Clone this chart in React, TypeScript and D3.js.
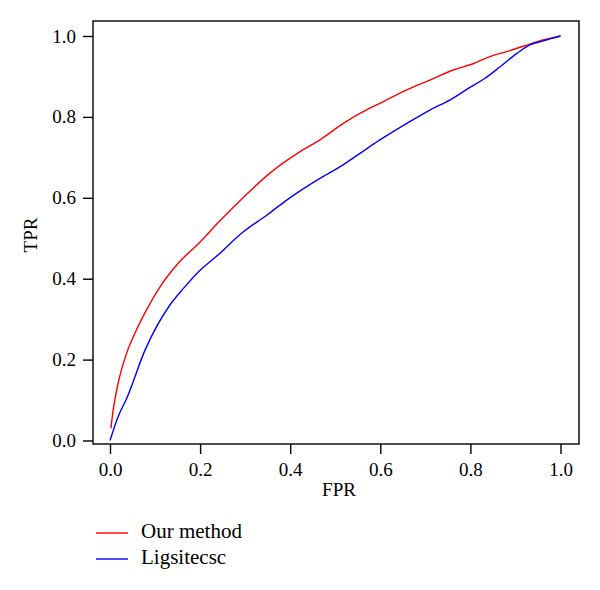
import React, { useEffect, useRef } from 'react';
import * as d3 from 'd3';

// ROC curves
const ourFpr = [0.002, 0.007, 0.018, 0.037, 0.052, 0.081, 0.111, 0.148, 0.2, 0.244, 0.296, 0.355, 0.422, 0.466, 0.518, 0.562, 0.607, 0.659, 0.71, 0.762, 0.807, 0.843, 0.888, 0.932, 0.954, 0.976, 1.0];
const ourTpr = [0.03, 0.075, 0.141, 0.216, 0.257, 0.323, 0.38, 0.434, 0.491, 0.543, 0.601, 0.661, 0.714, 0.743, 0.784, 0.813, 0.838, 0.867, 0.891, 0.916, 0.932, 0.949, 0.964, 0.98, 0.988, 0.994, 1.0];

const ligFpr = [0.0, 0.018, 0.037, 0.078, 0.133, 0.163, 0.2, 0.237, 0.296, 0.348, 0.393, 0.466, 0.511, 0.555, 0.599, 0.659, 0.71, 0.755, 0.799, 0.829, 0.866, 0.903, 0.932, 0.962, 0.98, 1.0];
const ligTpr = [0.0, 0.059, 0.104, 0.224, 0.335, 0.376, 0.421, 0.456, 0.516, 0.557, 0.595, 0.648, 0.677, 0.71, 0.743, 0.784, 0.817, 0.842, 0.873, 0.893, 0.924, 0.957, 0.978, 0.988, 0.994, 1.0];

const ticks = [0, 0.2, 0.4, 0.6, 0.8, 1.0];
const seriesNames = ['Our method', 'Ligsitecsc'];
const seriesColors = ['#ff0000', '#0000ff'];

const font = '"Liberation Serif", "Times New Roman", serif';

export default function App() {
  const ref = useRef<SVGSVGElement>(null);

  useEffect(() => {
    const svg = d3.select(ref.current);
    svg.selectAll('*').remove();

    const box = { left: 93, top: 21, right: 579, bottom: 444 };

    const x = d3.scaleLinear().domain([0, 1]).range([110, 560.5]);
    const y = d3.scaleLinear().domain([0, 1]).range([440.5, 36]);

    // frame
    svg
      .append('rect')
      .attr('x', box.left)
      .attr('y', box.top)
      .attr('width', box.right - box.left)
      .attr('height', box.bottom - box.top)
      .attr('fill', 'none')
      .attr('stroke', '#000')
      .attr('stroke-width', 1.4);

    const xAxis = svg
      .append('g')
      .attr('transform', `translate(0,${box.bottom})`)
      .call(d3.axisBottom(x).tickValues(ticks).tickFormat(d3.format('.1f')).tickSize(10).tickPadding(9));
    xAxis.select('.domain').remove();

    const yAxis = svg
      .append('g')
      .attr('transform', `translate(${box.left},0)`)
      .call(d3.axisLeft(y).tickValues(ticks).tickFormat(d3.format('.1f')).tickSize(10).tickPadding(7));
    yAxis.select('.domain').remove();

    [xAxis, yAxis].forEach(a => a.attr('font-family', font).attr('font-size', 19));

    svg
      .selectAll('.tick line')
      .attr('stroke', '#000')
      .attr('stroke-width', 1.4);
    svg
      .selectAll('.tick text')
      .attr('font-family', font)
      .attr('font-size', 19)
      .attr('fill', '#000');

    // axis titles
    svg
      .append('text')
      .attr('x', 339)
      .attr('y', 496)
      .attr('text-anchor', 'middle')
      .attr('font-family', font)
      .attr('font-size', 19)
      .text('FPR');

    svg
      .append('text')
      .attr('transform', 'translate(37,235) rotate(-90)')
      .attr('text-anchor', 'middle')
      .attr('font-family', font)
      .attr('font-size', 19)
      .text('TPR');

    const line = d3
      .line<[number, number]>()
      .x(d => x(d[0]))
      .y(d => y(d[1]))
      .curve(d3.curveMonotoneX);

    const series: [number, number][][] = [
      ourFpr.map((f, i) => [f, ourTpr[i]]),
      ligFpr.map((f, i) => [f, ligTpr[i]]),
    ];

    series.forEach((pts, i) => {
      svg
        .append('path')
        .datum(pts)
        .attr('fill', 'none')
        .attr('stroke', seriesColors[i])
        .attr('stroke-width', 1.4)
        .attr('d', line);
    });

    // legend
    const legend = svg.append('g').attr('transform', 'translate(96,533)');
    seriesNames.forEach((name, i) => {
      const g = legend.append('g').attr('transform', `translate(0,${i * 26})`);
      g.append('line')
        .attr('x1', 0)
        .attr('x2', 32)
        .attr('y1', 0)
        .attr('y2', 0)
        .attr('stroke', seriesColors[i])
        .attr('stroke-width', 1.4);
      g.append('text')
        .attr('x', 45)
        .attr('y', 5)
        .attr('font-family', font)
        .attr('font-size', 21)
        .text(name);
    });
  }, []);

  return (
    <svg
      ref={ref}
      width={600}
      height={590}
      style={{ position: 'absolute', left: 0, top: 0, background: '#fff' }}
    />
  );
}
